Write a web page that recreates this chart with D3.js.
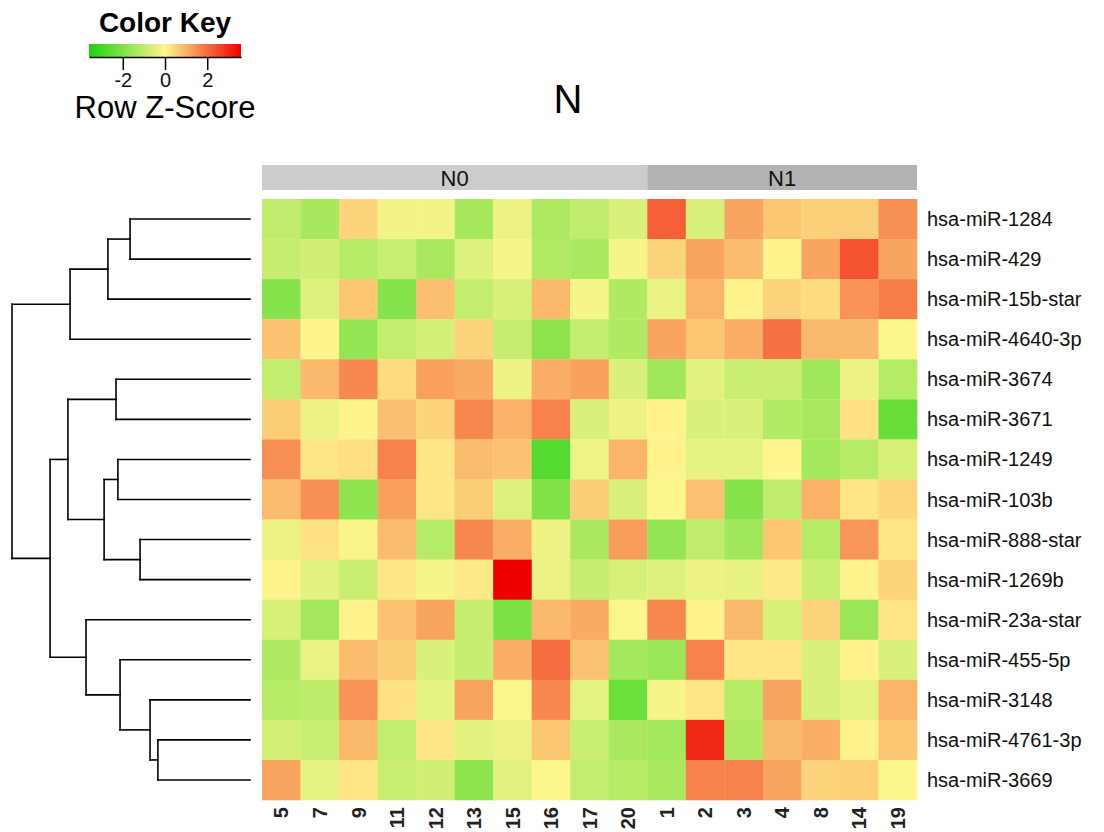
<!DOCTYPE html>
<html>
<head>
<meta charset="utf-8">
<script src="https://cdn.jsdelivr.net/npm/d3@7"></script>
<style>
  body { margin: 0; background: #fff; }
  text { font-family: "Liberation Sans", Arial, sans-serif; }
</style>
</head>
<body>
<div id="chart"></div>
<script>
// rows in dendrogram order
const rowLabels = ["hsa-miR-1284", "hsa-miR-429", "hsa-miR-15b-star", "hsa-miR-4640-3p",
  "hsa-miR-3674", "hsa-miR-3671", "hsa-miR-1249", "hsa-miR-103b", "hsa-miR-888-star",
  "hsa-miR-1269b", "hsa-miR-23a-star", "hsa-miR-455-5p", "hsa-miR-3148",
  "hsa-miR-4761-3p", "hsa-miR-3669"];
const colLabels = ["5", "7", "9", "11", "12", "13", "15", "16", "17", "20",
  "1", "2", "3", "4", "8", "14", "19"];
const colGroups = ["N0", "N0", "N0", "N0", "N0", "N0", "N0", "N0", "N0", "N0",
  "N1", "N1", "N1", "N1", "N1", "N1", "N1"];
const groupNames = ["N0", "N1"];

// row z-scores, one line per miRNA (columns as colLabels)
const zScores = [
  [-1.0, -1.4, 0.5, -0.2, -0.2, -1.4, -0.3, -1.3, -1.0, -0.6, 2.2, -0.6, 1.2, 0.7, 0.55, 0.55, 1.5],
  [-0.9, -0.75, -1.15, -0.85, -1.35, -0.5, -0.15, -1.2, -1.35, -0.15, 0.5, 1.2, 0.85, 0.05, 1.2, 2.4, 1.2],
  [-1.9, -0.5, 0.7, -1.9, 0.8, -0.95, -0.65, 0.9, -0.15, -1.25, -0.35, 0.95, 0.05, 0.5, 0.4, 1.45, 1.75],
  [0.75, 0.05, -1.7, -0.95, -0.7, 0.5, -0.9, -1.8, -0.95, -1.25, 1.2, 0.7, 1.05, 1.95, 0.9, 0.9, -0.05],
  [-0.95, 0.9, 1.6, 0.4, 1.25, 1.1, -0.3, 1.05, 1.25, -0.6, -1.5, -0.45, -0.85, -0.8, -1.5, -0.3, -1.15],
  [0.6, -0.3, 0.05, 0.8, 0.5, 1.6, 1.0, 1.7, -0.6, -0.3, 0.05, -0.6, -0.6, -1.2, -1.35, 0.3, -2.4],
  [1.5, 0.25, 0.35, 1.7, 0.25, 0.85, 0.75, -2.7, -0.25, 0.95, 0.05, -0.4, -0.4, 0.0, -1.45, -1.15, -0.65],
  [0.85, 1.5, -1.8, 1.25, 0.25, 0.6, -0.5, -2.0, 0.6, -0.6, -0.05, 0.75, -1.9, -1.0, 1.0, 0.25, 0.45],
  [-0.3, 0.3, -0.1, 0.85, -1.15, 1.6, 1.05, -0.3, -1.35, 1.3, -1.7, -1.0, -1.5, 0.7, -1.15, 1.4, 0.25],
  [0.05, -0.45, -0.85, 0.25, -0.15, 0.2, 3.6, -0.3, -0.9, -0.65, -0.5, -0.3, -0.4, 0.2, -0.85, 0.05, 0.5],
  [-0.65, -1.45, 0.05, 0.75, 1.2, -0.9, -2.1, 0.9, 1.1, -0.05, 1.6, 0.05, 0.9, -0.65, 0.5, -1.6, 0.25],
  [-1.25, -0.35, 0.85, 0.6, -0.6, -0.9, 1.05, 2.0, 0.75, -1.45, -1.6, 1.7, 0.25, 0.25, -0.6, 0.05, -0.6],
  [-1.15, -1.05, 1.45, 0.3, -0.4, 1.2, -0.05, 1.6, -0.4, -2.35, -0.15, 0.25, -1.15, 1.2, -0.6, -0.4, 0.95],
  [-0.7, -0.85, 0.9, -0.95, 0.25, -0.45, -0.3, 0.7, -0.85, -1.35, -1.45, 3.0, -1.25, 0.9, 1.05, 0.05, 0.7],
  [1.2, -0.4, 0.25, -0.85, -0.75, -1.8, -0.45, -0.05, -0.95, -1.15, -1.35, 1.7, 1.7, 1.2, 0.5, 0.55, -0.05]
];

// row dendrogram, hclust style: negative = leaf (1-based row), positive = earlier merge
const mergePairs = [
  [-14, -15], [-13, 1], [-9, -10], [-1, -2], [-12, 2], [-7, -8], [-5, -6],
  [4, -3], [6, 3], [-11, 5], [8, -4], [7, 9], [12, 10], [11, 13]
];
const mergeHeights = [3.87, 4.2, 4.62, 5.04, 5.46, 5.55, 5.63, 5.97, 6.13, 6.89, 7.56, 7.65, 8.4, 10.0];

const keyTicks = [-2, 0, 2];
const keyRange = [-3.6, 3.6];

const W = 1104, H = 832;
const svg = d3.select("#chart").append("svg").attr("width", W).attr("height", H);

const color = d3.scaleLinear()
  .domain([keyRange[0], 0, keyRange[1]])
  .range(["#1cd20f", "#fff68f", "#ee0000"]);

const x = d3.scaleBand().domain(d3.range(colLabels.length)).range([262, 917]);
const y = d3.scaleBand().domain(d3.range(rowLabels.length)).range([199, 800]);

// cells
const cells = [];
zScores.forEach((row, i) => row.forEach((v, j) => cells.push({ i, j, v })));
svg.append("g").selectAll("rect").data(cells).join("rect")
  .attr("x", d => x(d.j))
  .attr("y", d => y(d.i))
  .attr("width", x.bandwidth() + 0.3)
  .attr("height", y.bandwidth() + 0.3)
  .attr("fill", d => color(d.v));

// column side colours
const groupFill = d3.scaleOrdinal().domain(groupNames).range(["#cccccc", "#b3b3b3"]);
const groups = groupNames.map(g => {
  const idx = colGroups.map((c, k) => c === g ? k : -1).filter(k => k >= 0);
  return { g, x0: x(d3.min(idx)), x1: x(d3.max(idx)) + x.bandwidth() };
});
const gh = svg.append("g");
gh.selectAll("rect").data(groups).join("rect")
  .attr("x", d => d.x0).attr("y", 165)
  .attr("width", d => d.x1 - d.x0).attr("height", 25)
  .attr("fill", d => groupFill(d.g));
gh.selectAll("text").data(groups).join("text")
  .attr("x", d => (d.x0 + d.x1) / 2).attr("y", 178)
  .attr("dy", "0.35em")
  .attr("text-anchor", "middle")
  .attr("font-size", 22)
  .attr("fill", "#111")
  .text(d => d.g);

// row labels
svg.append("g").selectAll("text").data(rowLabels).join("text")
  .attr("x", 927)
  .attr("y", (d, i) => y(i) + y.bandwidth() / 2)
  .attr("dy", "0.35em")
  .attr("font-size", 20)
  .attr("fill", "#111")
  .text(d => d);

// column labels, vertical
svg.append("g").selectAll("text").data(colLabels).join("text")
  .attr("transform", (d, j) => `translate(${x(j) + x.bandwidth() / 2},807) rotate(-90)`)
  .attr("dy", "0.36em")
  .attr("text-anchor", "end")
  .attr("font-size", 20)
  .attr("font-weight", "bold")
  .attr("fill", "#222")
  .text(d => d);

// dendrogram
function node(id) {
  if (id < 0) return { leaf: -id - 1, h: 0 };
  const m = mergePairs[id - 1];
  return { h: mergeHeights[id - 1], children: [node(m[0]), node(m[1])] };
}
const root = d3.hierarchy(node(mergePairs.length));
const hx = d3.scaleLinear().domain([d3.max(mergeHeights), 0]).range([12, 250]);
root.eachAfter(n => {
  n.py = n.children ? (n.children[0].py + n.children[1].py) / 2
                    : y(n.data.leaf) + y.bandwidth() / 2;
});
const segs = [];
root.each(n => {
  if (!n.children) return;
  const [a, b] = n.children;
  segs.push([hx(n.data.h), a.py, hx(n.data.h), b.py]);
  n.children.forEach(c => segs.push([hx(n.data.h), c.py, hx(c.data.h), c.py]));
});
svg.append("g").selectAll("line").data(segs).join("line")
  .attr("x1", d => d[0]).attr("y1", d => d[1])
  .attr("x2", d => d[2]).attr("y2", d => d[3])
  .attr("stroke", "#000").attr("stroke-width", 1.6)
  .attr("stroke-linecap", "square");

// title
svg.append("text").attr("x", 568).attr("y", 113)
  .attr("text-anchor", "middle").attr("font-size", 40).text("N");

// colour key
const kx = d3.scaleLinear().domain(keyRange).range([89, 241]);
const grad = svg.append("defs").append("linearGradient").attr("id", "keygrad");
grad.selectAll("stop").data(d3.range(0, 1.0001, 0.05)).join("stop")
  .attr("offset", d => d)
  .attr("stop-color", d => color(keyRange[0] + d * (keyRange[1] - keyRange[0])));
svg.append("rect").attr("x", 89).attr("y", 44).attr("width", 152).attr("height", 13)
  .attr("fill", "url(#keygrad)");
const kax = svg.append("g").attr("transform", "translate(0,57)")
  .call(d3.axisBottom(kx).tickValues(keyTicks).tickSize(13).tickSizeOuter(0).tickFormat(d => String(d)));
kax.select(".domain").attr("stroke-width", 1.5);
kax.selectAll(".tick line").attr("stroke-width", 1.5);
kax.selectAll(".tick text").attr("font-size", 20).attr("dy", 0).attr("y", 30)
  .attr("font-family", "Liberation Sans, Arial, sans-serif").attr("fill", "#111");
svg.append("text").attr("x", 165).attr("y", 118).attr("text-anchor", "middle")
  .attr("font-size", 31).text("Row Z-Score");
svg.append("text").attr("x", 165).attr("y", 32).attr("text-anchor", "middle")
  .attr("font-size", 28).attr("font-weight", "bold").text("Color Key");
</script>
</body>
</html>
